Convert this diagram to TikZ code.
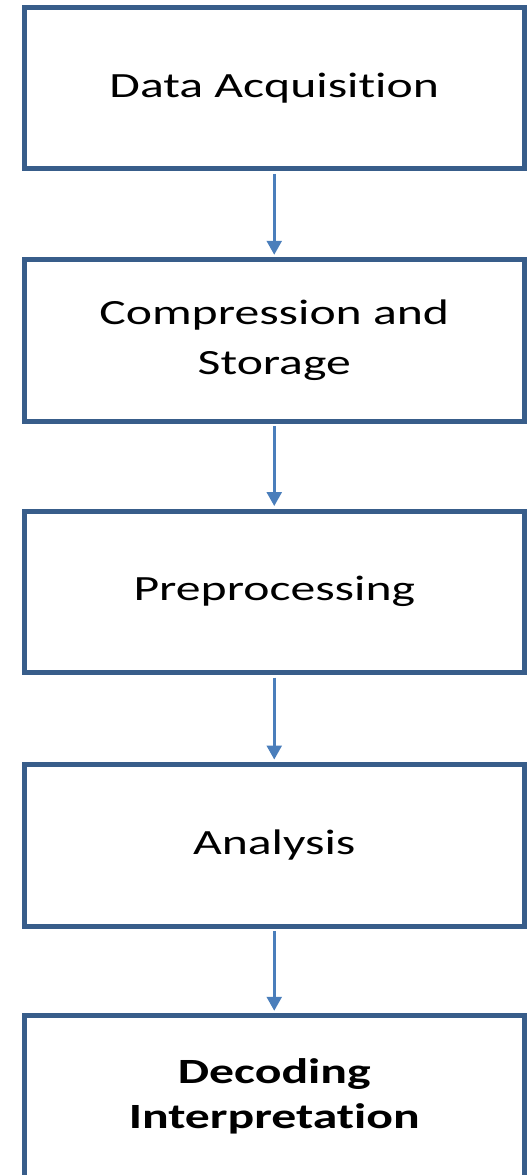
\documentclass[tikz,border=0pt]{standalone}
\usepackage{fontspec}
\setmainfont{Carlito}[FakeStretch=1.40, Ligatures={NoCommon}]
\usetikzlibrary{arrows.meta}
\definecolor{boxline}{RGB}{56,93,138}
\definecolor{flowline}{RGB}{74,126,187}
\tikzset{
  stagebox/.style={draw=boxline, line width=5pt, fill=white,
    minimum width=500.5pt, minimum height=161.5pt, inner sep=0pt,
    align=center, font=\fontsize{35.5}{47}\selectfont},
  flow/.style={draw=flowline, line width=2.5pt,
    -{Triangle[length=14pt,width=15pt]}, shorten >=2.5pt, shorten <=2.5pt}
}
\begin{document}
\begin{tikzpicture}[x=1pt,y=-1pt]
  \useasboundingbox (0,0) rectangle (531,1175);
  \clip (0,0) rectangle (531,1175);
  \node[stagebox] (acq)  at (274.25, 88)     {Data Acquisition};
  \node[stagebox, font=\fontsize{35.5}{50}\selectfont]
                  (comp) at (274.25, 340.5)  {Compression and\\Storage};
  \node[stagebox] (pre)  at (274.25, 591.75) {Preprocessing};
  \node[stagebox] (ana)  at (274.25, 845.25) {Analysis};
  \node[stagebox, font=\fontsize{35.5}{45}\selectfont\bfseries]
                  (dec)  at (274.25, 1096.5) {Decoding\\Interpretation};
  \draw[flow] (acq.south)  -- (comp.north);
  \draw[flow] (comp.south) -- (pre.north);
  \draw[flow] (pre.south)  -- (ana.north);
  \draw[flow] (ana.south)  -- (dec.north);
\end{tikzpicture}
\end{document}
